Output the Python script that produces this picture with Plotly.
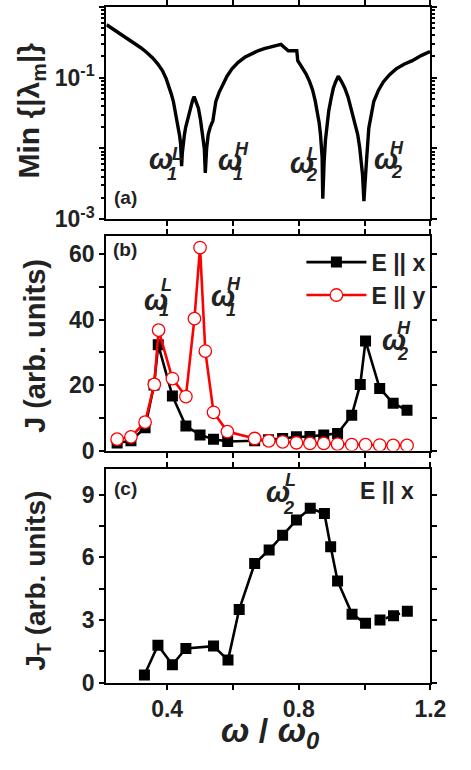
import plotly.graph_objects as go

# ---------------- data ----------------
# panel (a): min |lambda_m| vs omega/omega0
W_A = [0.216, 0.238, 0.260, 0.280, 0.299, 0.320, 0.338, 0.356, 0.372, 0.386, 0.397,
       0.405, 0.412, 0.419, 0.424, 0.430, 0.434, 0.438, 0.441, 0.443, 0.444,
       0.446, 0.448, 0.452, 0.456, 0.463, 0.470, 0.477, 0.482, 0.488, 0.495, 0.501,
       0.506, 0.510, 0.513, 0.516, 0.518, 0.520, 0.525, 0.531, 0.539,
       0.548, 0.558, 0.568, 0.582, 0.597, 0.616, 0.636, 0.656, 0.676, 0.695, 0.715,
       0.746, 0.768, 0.794, 0.797, 0.810, 0.822,
       0.833, 0.842, 0.850, 0.856, 0.862, 0.866, 0.869, 0.871, 0.873, 0.875, 0.877, 0.881,
       0.886, 0.891, 0.898, 0.905, 0.912, 0.920, 0.930, 0.940,
       0.950, 0.959, 0.969, 0.979, 0.985, 0.990, 0.994, 0.998, 1.002, 1.006, 1.013, 1.020,
       1.028, 1.042, 1.057, 1.076, 1.096, 1.120, 1.145, 1.172, 1.199]
MIN_A = [0.56, 0.48, 0.41, 0.355, 0.31, 0.265, 0.227, 0.19, 0.156, 0.125, 0.097,
         0.078, 0.060, 0.046, 0.035, 0.026, 0.0195, 0.0150, 0.0115, 0.0085, 0.0056,
         0.0085, 0.0112, 0.0150, 0.0195, 0.027, 0.037, 0.047, 0.054, 0.046, 0.037, 0.026,
         0.0178, 0.013, 0.010, 0.0045, 0.0075, 0.010, 0.0158, 0.020, 0.0245,
         0.046, 0.062, 0.0785, 0.105, 0.133, 0.165, 0.194, 0.218, 0.24, 0.257, 0.272,
         0.295, 0.24, 0.24, 0.174, 0.142, 0.1135,
         0.088, 0.067, 0.047, 0.0335, 0.023, 0.0158, 0.011, 0.0076, 0.00195, 0.004, 0.0063,
         0.0129, 0.022, 0.0335, 0.050, 0.0708, 0.087, 0.105, 0.088, 0.0708,
         0.053, 0.037, 0.025, 0.0158, 0.0105, 0.0068, 0.0042, 0.0018, 0.0040, 0.0068,
         0.0195, 0.031, 0.046, 0.066, 0.087, 0.110, 0.133, 0.155, 0.174, 0.205, 0.235]

# panel (b): J for E||x and E||y
W_BX = [0.248, 0.290, 0.333, 0.360, 0.373, 0.416, 0.457, 0.500, 0.541, 0.584, 0.666,
        0.708, 0.751, 0.793, 0.834, 0.876, 0.918, 0.961, 0.987, 1.003, 1.046, 1.087, 1.129]
J_X = [2.3, 3.0, 7.0, 20.0, 32.3, 16.7, 7.5, 4.8, 3.5, 2.8, 3.0,
       3.3, 3.7, 4.2, 4.3, 4.8, 5.2, 10.8, 20.2, 33.5, 19.0, 14.5, 12.3]
W_BY = [0.248, 0.290, 0.333, 0.361, 0.374, 0.416, 0.457, 0.483, 0.500, 0.516, 0.541,
        0.583, 0.666, 0.709, 0.751, 0.793, 0.834, 0.876, 0.918, 0.961, 1.003, 1.046,
        1.087, 1.129]
J_Y = [3.5, 4.2, 8.7, 20.2, 36.8, 22.0, 16.5, 40.3, 62.0, 30.4, 11.7,
       5.8, 3.7, 3.0, 2.7, 2.4, 2.2, 2.2, 2.0, 1.8, 1.8, 1.7, 1.6, 1.6]

# panel (c): J_T for E||x
W_C = [0.331, 0.372, 0.416, 0.457, 0.541, 0.585, 0.619, 0.666, 0.710, 0.751, 0.793,
       0.835, 0.878, 0.897, 0.918, 0.962, 1.003, 1.047, 1.088, 1.130]
JT = [0.37, 1.79, 0.86, 1.64, 1.75, 1.08, 3.5, 5.7, 6.35, 7.05, 7.78,
      8.35, 8.1, 6.5, 4.87, 3.28, 2.84, 3.0, 3.2, 3.42]
C_BREAK = 17  # line is interrupted between these two groups

X_TICKS = [0.4, 0.6, 0.8, 1.0, 1.2]
X_TICKTEXT = ["0.4", "", "0.8", "", "1.2"]
A_TICKS = [1e-3, 1e-2, 1e-1, 1.0]
A_TICKTEXT = ["10<sup>-3</sup>", "", "10<sup>-1</sup>", ""]
B_TICKS = [0, 10, 20, 30, 40, 50, 60]
B_TICKTEXT = ["0", "", "20", "", "40", "", "60"]
C_TICKS = [0, 1.5, 3, 4.5, 6, 7.5, 9]
C_TICKTEXT = ["0", "", "3", "", "6", "", "9"]

# ---------------- figure ----------------
W, H = 471, 770
FONT = "Liberation Sans, Arial, sans-serif"


def px(x):
    return x / W


def py(y):
    return 1 - y / H


fig = go.Figure()

fig.add_trace(go.Scatter(x=W_A, y=MIN_A, mode="lines", xaxis="x", yaxis="y",
                         line=dict(color="black", width=3.4), showlegend=False))

fig.add_trace(go.Scatter(x=W_BX, y=J_X, mode="lines+markers", xaxis="x2", yaxis="y2",
                         name="E || x",
                         line=dict(color="black", width=2.6),
                         marker=dict(symbol="square", size=11, color="black")))
fig.add_trace(go.Scatter(x=W_BY, y=J_Y, mode="lines+markers", xaxis="x2", yaxis="y2",
                         name="E || y",
                         line=dict(color="#ff0000", width=2.6),
                         marker=dict(symbol="circle", size=12.5, color="white",
                                     line=dict(color="#ff0000", width=1.3))))

fig.add_trace(go.Scatter(x=W_C[:C_BREAK], y=JT[:C_BREAK], mode="lines+markers",
                         xaxis="x3", yaxis="y3", showlegend=False,
                         line=dict(color="black", width=2.6),
                         marker=dict(symbol="square", size=11, color="black")))
fig.add_trace(go.Scatter(x=W_C[C_BREAK:], y=JT[C_BREAK:], mode="lines+markers",
                         xaxis="x3", yaxis="y3", showlegend=False,
                         line=dict(color="black", width=2.6, dash="dot"),
                         marker=dict(symbol="square", size=11, color="black")))

XR = [0.215, 1.2]
common = dict(showline=True, linewidth=2, linecolor="black", mirror="ticks",
              ticks="outside", ticklen=5, tickwidth=2, tickcolor="black",
              showgrid=False, zeroline=False,
              tickfont=dict(family=FONT, size=23, color="#222", weight="bold"))

dom_a = [py(220), py(3)]
dom_b = [py(456.7), py(237)]
dom_c = [py(694), py(475)]
xdom = [px(110), px(445.5)]

minor_a = [m * 10 ** e for e in (-3, -2, -1) for m in range(2, 10)]

fig.update_layout(
    width=W, height=H, margin=dict(l=0, r=0, t=0, b=0),
    paper_bgcolor="white", plot_bgcolor="white",
    font=dict(family=FONT, color="#222"),
    xaxis=dict(common, domain=xdom, range=XR, anchor="y", tickvals=X_TICKS,
               ticktext=X_TICKTEXT, showticklabels=False),
    yaxis=dict(common, domain=dom_a, type="log", range=[-3, 0], anchor="x",
               tickvals=A_TICKS, ticktext=A_TICKTEXT,
               minor=dict(tickvals=minor_a, ticks="outside", ticklen=3, tickwidth=1.5,
                          tickcolor="black")),
    xaxis2=dict(common, domain=xdom, range=XR, anchor="y2", tickvals=X_TICKS,
                ticktext=X_TICKTEXT, showticklabels=False),
    yaxis2=dict(common, domain=dom_b, range=[0, 65.6], anchor="x2",
                tickvals=B_TICKS, ticktext=B_TICKTEXT),
    xaxis3=dict(common, domain=xdom, range=XR, anchor="y3", tickvals=X_TICKS,
                ticktext=X_TICKTEXT),
    yaxis3=dict(common, domain=dom_c, range=[0, 10.25], anchor="x3",
                tickvals=C_TICKS, ticktext=C_TICKTEXT),
    legend=dict(x=px(312), y=py(242), xanchor="left", yanchor="top",
                bgcolor="rgba(0,0,0,0)", itemwidth=60,
                font=dict(family=FONT, size=23, color="#222", weight="bold"),
                tracegroupgap=0),
)

ann = []


def text(x, y, s, size, angle=0, bold=True, xanchor="center"):
    ann.append(dict(x=px(x), y=py(y), xref="paper", yref="paper", text=s,
                    showarrow=False, xanchor=xanchor, yanchor="middle",
                    textangle=angle,
                    font=dict(family=FONT, size=size, color="#222",
                              weight="bold" if bold else "normal")))


def omega(cx, cy, sub, sup, dsub=(10, 12), dsup=(15, -12)):
    text(cx, cy - 3, "<i>ω</i>", 29)
    text(cx + dsub[0], cy + dsub[1], "<i>%s</i>" % sub, 18)
    text(cx + dsup[0], cy + dsup[1], "<i>%s</i>" % sup, 18)


# panel (a) labels
omega(167, 162, "1", "L", dsub=(11, 12), dsup=(17, -9))
omega(238, 163, "1", "H", dsub=(8, 11), dsup=(12, -15))
omega(313, 166, "2", "L", dsub=(9, 9), dsup=(10, -13))
omega(400, 161, "2", "H", dsub=(10, 11), dsup=(11, -14))
# panel (b) labels
omega(161, 306, "1", "L", dsub=(9, 7), dsup=(11, -19))
omega(231, 302, "1", "H", dsub=(8, 11), dsup=(11, -16))
omega(408, 347, "2", "H", dsub=(9, 11), dsup=(10, -16))
# panel (c) label
omega(288, 502, "2", "L", dsub=(11, 13), dsup=(13, -15))

text(129.5, 198, "(a)", 19)
text(129.5, 251, "(b)", 19)
text(129.5, 495, "(c)", 19)
text(400.5, 498, "E || x", 23)

# axis titles
text(32, 109, "Min {|λ<sub>m</sub>|}", 30, angle=-90)
text(36, 350, "J (arb. units)", 29, angle=-90)
text(39, 590, "J<sub>T</sub> (arb. units)", 28, angle=-90)
text(279, 745, "<i>ω</i> / <i>ω</i><sub><i>0</i></sub>", 34)

fig.update_layout(annotations=ann)
fig.write_html("out.html")
